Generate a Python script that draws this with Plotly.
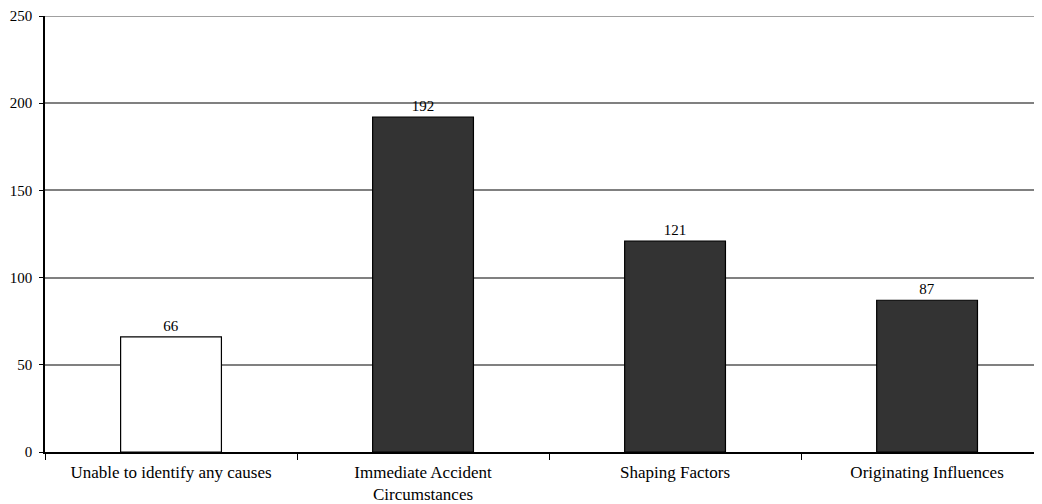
import plotly.graph_objects as go

categories = ["Unable to identify any causes", "Immediate Accident<br>Circumstances",
              "Shaping Factors", "Originating Influences"]
counts = [66, 192, 121, 87]
bar_colors = ["#ffffff", "#333333", "#333333", "#333333"]

font = "Liberation Serif, Times New Roman, serif"

fig = go.Figure(go.Bar(
    x=categories,
    y=counts,
    marker=dict(color=bar_colors, line=dict(color="#000000", width=1.2)),
    width=0.4,
    text=counts,
    textposition="outside",
    textfont=dict(family=font, size=15, color="#000000"),
    cliponaxis=False,
))

# page body adds an 8px offset, so the figure is a bit smaller than the window
fig.update_layout(
    width=1034, height=496,
    margin=dict(l=37, r=0, t=7, b=51),
    paper_bgcolor="white", plot_bgcolor="white",
    font=dict(family=font, size=15, color="#000000"),
    showlegend=False,
)
fig.update_xaxes(
    range=[-0.5, 3.456],
    showline=True, linecolor="#000000", linewidth=1.5,
    ticks="outside", tickson="boundaries", ticklen=6, tickcolor="#000000",
    showgrid=False,
    tickfont=dict(family=font, size=17),
    ticklabelstandoff=4,
)
fig.update_yaxes(
    range=[0, 250], dtick=50,
    showline=True, linecolor="#000000", linewidth=1.5,
    ticks="outside", ticklen=4, tickcolor="#000000",
    showgrid=True, gridcolor="#808080", gridwidth=1.5,
    zeroline=False,
    tickfont=dict(family=font, size=15),
    ticklabelstandoff=4,
    ticklabeloverflow="allow",
)
# top gridline (plotly drops the one at the range edge)
fig.add_hline(y=250, line=dict(color="#808080", width=1.5), layer="below")

fig.write_html("out.html")
